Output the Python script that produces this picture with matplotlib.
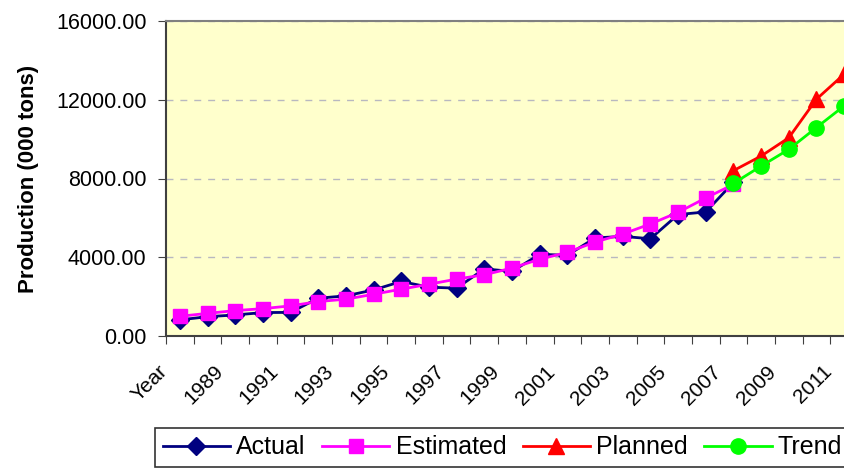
import matplotlib
matplotlib.use("Agg")
import matplotlib.pyplot as plt
import matplotlib.transforms as mtransforms
import numpy as np

plt.rcParams["font.family"] = ["Liberation Sans", "DejaVu Sans"]

# categories on the x axis (first one is the header cell "Year")
categories = ["Year"] + [str(y) for y in range(1988, 2012)]

# values, 000 tons
actual = [820, 980, 1070, 1190, 1200, 1920, 2040, 2340, 2770, 2480,
          2430, 3410, 3280, 4150, 4100, 4980, 5060, 4940, 6170, 6300, 7800]
estimated = [1000, 1150, 1290, 1390, 1530, 1750, 1870, 2120, 2380, 2630,
             2890, 3110, 3450, 3900, 4250, 4770, 5180, 5690, 6280, 7010, 7700]
planned_start = 20  # 2007
planned = [8400, 9140, 10070, 12030, 13300]
trend = [7750, 8630, 9480, 10590, 11690]

fig = plt.figure(figsize=(8.44, 4.74), dpi=100)
ax = fig.add_axes([166 / 844, 1 - 336 / 474, 692 / 844, 315 / 474])
ax.set_facecolor("#FFFFCC")

x_act = np.arange(len(actual))
x_plan = np.arange(planned_start, planned_start + len(planned))

ax.plot(x_act, actual, color="#000080", lw=2, marker="D", ms=9,
        label="Actual", zorder=3)
ax.plot(x_act, estimated, color="#FF00FF", lw=2, marker="s", ms=10,
        label="Estimated", zorder=4)
ax.plot(x_plan, planned, color="#FF0000", lw=2, marker="^", ms=12,
        label="Planned", zorder=5)
ax.plot(x_plan, trend, color="#00FF00", lw=2, marker="o", ms=11,
        label="Trend", zorder=6)

yt = [0, 4000, 8000, 12000, 16000]
ax.set_yticks(yt)
ax.set_yticklabels([f"{v:.2f}" for v in yt], fontsize=15.5)
ax.yaxis.grid(True, color="#B8B8C0", linestyle=(0, (5, 5)), lw=1)
ax.set_axisbelow(True)

# category ticks between the points
ax.set_xticks(np.arange(-0.5, len(categories), 1.0))
ax.set_xticklabels([])
ax.tick_params(axis="x", length=6, color="#404040")
ax.tick_params(axis="y", length=6, color="#404040", pad=8)
ax.set_xlim(-0.5, len(categories) - 0.5)
ax.set_ylim(0, 16000)

# every other category label, rotated, a little left of its point (Excel style)
lbl_shift = mtransforms.ScaledTranslation(-22 / 100, -26 / 100, fig.dpi_scale_trans)
for i in range(0, len(categories), 2):
    ax.text(i, 0, categories[i], transform=ax.get_xaxis_transform() + lbl_shift,
            fontsize=15, rotation=45, ha="right", va="top",
            rotation_mode="anchor", clip_on=False)

for side in ("left", "bottom"):
    ax.spines[side].set_color("#404040")
    ax.spines[side].set_linewidth(1.5)
ax.spines["top"].set_color("#808080")
ax.spines["top"].set_linewidth(1.5)
ax.spines["right"].set_visible(False)

ax.set_ylabel("Production (000 tons)", fontsize=16, fontweight="bold",
              labelpad=12)

leg = fig.legend(loc="upper left", bbox_to_anchor=(155 / 844, 1 - 428 / 474),
                 ncol=4, fontsize=18, frameon=True, fancybox=False,
                 handlelength=2.7, handletextpad=0.25, columnspacing=0.65,
                 borderpad=0.3, borderaxespad=0)
leg.get_frame().set_edgecolor("black")
leg.get_frame().set_linewidth(1.2)

fig.savefig("out.png", dpi=100)
